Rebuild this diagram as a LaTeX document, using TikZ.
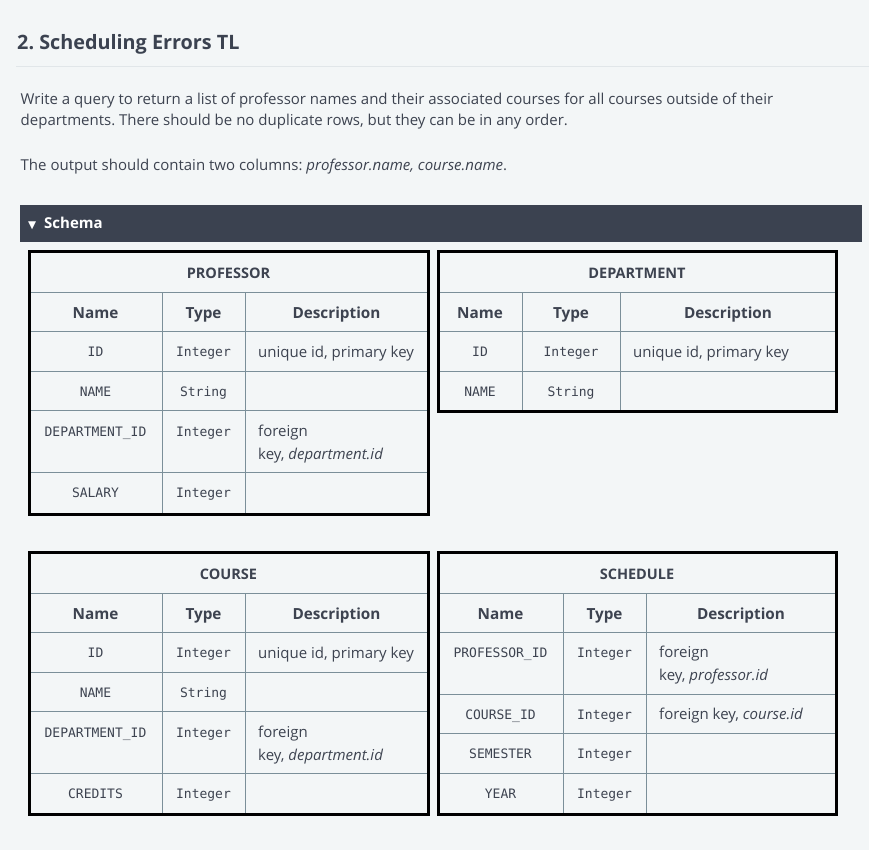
\documentclass[tikz,border=0pt]{standalone}
\usepackage{fontspec}
\setmainfont{Open Sans}
\setmonofont{DejaVu Sans Mono}
\newfontfamily\symbfont{DejaVu Sans}
\frenchspacing
\definecolor{pagebg}{HTML}{F3F6F7}
\definecolor{inktext}{HTML}{3D4350}
\definecolor{barbg}{HTML}{3B4250}
\definecolor{gridline}{HTML}{7B8F99}
\definecolor{rulegrey}{HTML}{E1E6E9}
\tikzset{
  body/.style={anchor=base west, inner sep=0pt, text=inktext, font=\fontsize{15}{18}\selectfont},
  tabtitle/.style={anchor=base, inner sep=0pt, text=inktext, font=\fontsize{14.5}{17}\selectfont\bfseries},
  colhead/.style={anchor=base, inner sep=0pt, text=inktext, font=\fontsize{15.3}{18}\selectfont\bfseries},
  field/.style={anchor=base, inner sep=0pt, text=inktext, font=\fontsize{13}{16}\selectfont\ttfamily},
  desc/.style={anchor=base west, inner sep=0pt, text=inktext, font=\fontsize{15}{18}\selectfont},
  gridrule/.style={draw=gridline, line width=0.9pt},
  frame/.style={draw=black, line width=3pt},
}

\begin{document}
\begin{tikzpicture}[x=1pt, y=-1pt]
		%%%%% START %%%%%
		
		\fill[pagebg] (0, 0) rectangle (869, 850);
		\useasboundingbox (0, 0) rectangle (869, 850);
		
		% heading and question
		\node[anchor=base west, inner sep=0pt, text=barbg, font=\fontsize{19.8}{24}\selectfont\bfseries] (heading) at (17, 49.5) {2. Scheduling Errors TL};
		\draw[rulegrey, line width=1.5pt] (16, 66.5) -- (869, 66.5);
		
		\node[body] (para1) at (20.5, 104.5) {Write a query to return a list of professor names and their associated courses for all courses outside of their};
		\node[body] (para2) at (20.5, 125.5) {departments. There should be no duplicate rows, but they can be in any order.};
		\node[body] (para3) at (20.5, 171) {The output should contain two columns: \textit{professor.name, course.name}.};
		
		% schema bar
		\fill[barbg] (20, 205) rectangle (862, 242);
		\node[anchor=base west, inner sep=0pt, text=white, font=\fontsize{10.5}{12}\selectfont\symbfont] (arrow) at (28, 228.5) {▼};
		\node[anchor=base west, inner sep=0pt, text=white, font=\fontsize{15}{18}\selectfont\bfseries] (schema) at (44, 229) {Schema};
		
		% PROFESSOR
		\draw[gridrule] (29, 292) -- (428, 292);
		\draw[gridrule] (29, 331) -- (428, 331);
		\draw[gridrule] (29, 371) -- (428, 371);
		\draw[gridrule] (29, 410) -- (428, 410);
		\draw[gridrule] (29, 472) -- (428, 472);
		\draw[gridrule] (162, 292) -- (162, 514);
		\draw[gridrule] (245, 292) -- (245, 514);
		\draw[frame] (29.5, 251.5) rectangle (428, 514);
		
		\node[tabtitle] (profTitle) at (228.5, 278) {PROFESSOR};
		\node[colhead] (profName) at (95.5, 318) {Name};
		\node[colhead] (profType) at (203.5, 318) {Type};
		\node[colhead] (profDesc) at (336.5, 318) {Description};
		\node[field] (profId) at (95.5, 356) {ID};
		\node[field] (profIdT) at (203.5, 356) {Integer};
		\node[desc] (profIdD) at (258, 357) {unique id, primary key};
		\node[field] (profNm) at (95.5, 396) {NAME};
		\node[field] (profNmT) at (203.5, 396) {String};
		\node[field] (profDep) at (95.5, 436) {DEPARTMENT\_ID};
		\node[field] (profDepT) at (203.5, 436) {Integer};
		\node[desc] (profDepD) at (258, 436.5) {foreign};
		\node[desc] (profDepD2) at (258, 459.5) {key, \textit{department.id}};
		\node[field] (profSal) at (95.5, 497) {SALARY};
		\node[field] (profSalT) at (203.5, 497) {Integer};
		
		% DEPARTMENT
		\draw[gridrule] (438, 292) -- (836, 292);
		\draw[gridrule] (438, 331) -- (836, 331);
		\draw[gridrule] (438, 371) -- (836, 371);
		\draw[gridrule] (522, 292) -- (522, 411);
		\draw[gridrule] (620, 292) -- (620, 411);
		\draw[frame] (438.5, 251.5) rectangle (836, 411);
		
		\node[tabtitle] (depTitle) at (637, 278) {DEPARTMENT};
		\node[colhead] (depName) at (480, 318) {Name};
		\node[colhead] (depType) at (571, 318) {Type};
		\node[colhead] (depDesc) at (728, 318) {Description};
		\node[field] (depId) at (480, 356) {ID};
		\node[field] (depIdT) at (571, 356) {Integer};
		\node[desc] (depIdD) at (633, 357) {unique id, primary key};
		\node[field] (depNm) at (480, 396) {NAME};
		\node[field] (depNmT) at (571, 396) {String};
		
		% COURSE
		\draw[gridrule] (29, 593) -- (428, 593);
		\draw[gridrule] (29, 632) -- (428, 632);
		\draw[gridrule] (29, 672) -- (428, 672);
		\draw[gridrule] (29, 711) -- (428, 711);
		\draw[gridrule] (29, 773) -- (428, 773);
		\draw[gridrule] (162, 593) -- (162, 814);
		\draw[gridrule] (245, 593) -- (245, 814);
		\draw[frame] (29.5, 552.5) rectangle (428, 814);
		
		\node[tabtitle] (crsTitle) at (228.5, 579) {COURSE};
		\node[colhead] (crsName) at (95.5, 619) {Name};
		\node[colhead] (crsType) at (203.5, 619) {Type};
		\node[colhead] (crsDesc) at (336.5, 619) {Description};
		\node[field] (crsId) at (95.5, 657) {ID};
		\node[field] (crsIdT) at (203.5, 657) {Integer};
		\node[desc] (crsIdD) at (258, 658) {unique id, primary key};
		\node[field] (crsNm) at (95.5, 697) {NAME};
		\node[field] (crsNmT) at (203.5, 697) {String};
		\node[field] (crsDep) at (95.5, 737) {DEPARTMENT\_ID};
		\node[field] (crsDepT) at (203.5, 737) {Integer};
		\node[desc] (crsDepD) at (258, 737.5) {foreign};
		\node[desc] (crsDepD2) at (258, 760.5) {key, \textit{department.id}};
		\node[field] (crsCr) at (95.5, 798) {CREDITS};
		\node[field] (crsCrT) at (203.5, 798) {Integer};
		
		% SCHEDULE
		\draw[gridrule] (438, 593) -- (836, 593);
		\draw[gridrule] (438, 632) -- (836, 632);
		\draw[gridrule] (438, 694) -- (836, 694);
		\draw[gridrule] (438, 733) -- (836, 733);
		\draw[gridrule] (438, 773) -- (836, 773);
		\draw[gridrule] (563, 593) -- (563, 814);
		\draw[gridrule] (646, 593) -- (646, 814);
		\draw[frame] (438.5, 552.5) rectangle (836, 814);
		
		\node[tabtitle] (schTitle) at (637, 579) {SCHEDULE};
		\node[colhead] (schName) at (500.5, 619) {Name};
		\node[colhead] (schType) at (604.5, 619) {Type};
		\node[colhead] (schDesc) at (741, 619) {Description};
		\node[field] (schProf) at (500.5, 657) {PROFESSOR\_ID};
		\node[field] (schProfT) at (604.5, 657) {Integer};
		\node[desc] (schProfD) at (659, 657.5) {foreign};
		\node[desc] (schProfD2) at (659, 680.5) {key, \textit{professor.id}};
		\node[field] (schCrs) at (500.5, 719) {COURSE\_ID};
		\node[field] (schCrsT) at (604.5, 719) {Integer};
		\node[desc] (schCrsD) at (659, 719.5) {foreign key, \textit{course.id}};
		\node[field] (schSem) at (500.5, 758) {SEMESTER};
		\node[field] (schSemT) at (604.5, 758) {Integer};
		\node[field] (schYr) at (500.5, 798) {YEAR};
		\node[field] (schYrT) at (604.5, 798) {Integer};
		
		%%%%% END %%%%%
	\end{tikzpicture}
\end{document}
